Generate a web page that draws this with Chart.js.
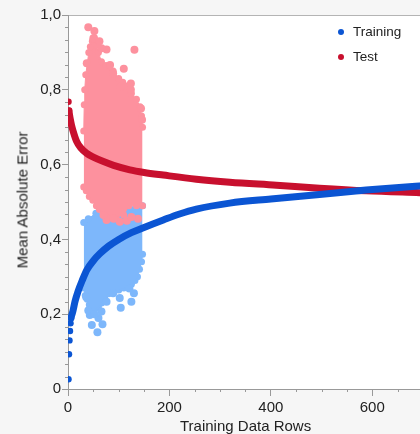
<!DOCTYPE html>
<html>
<head>
<meta charset="utf-8">
<script src="https://cdn.jsdelivr.net/npm/chart.js@4/dist/chart.umd.min.js"></script>
<style>
  html, body { margin: 0; padding: 0; width: 420px; height: 434px; overflow: hidden; background: #f6f6f6; }
  body { position: relative; font-family: "Liberation Sans", Arial, sans-serif; color: #222; }
  #wrap { position: absolute; left: 0; top: 0; width: 500px; height: 434px; }
  .ttl { position: absolute; font-size: 15px; white-space: nowrap; }
  #ytitle { left: 22px; top: 200px; transform: translate(-50%, -50%) rotate(-90deg); }
  #xtitle { left: 180px; top: 417px; }
  .leg { position: absolute; left: 338px; font-size: 13.5px; white-space: nowrap; }
  .leg i { display: inline-block; width: 6px; height: 6px; border-radius: 50%; margin-right: 9px; vertical-align: 1px; }
</style>
</head>
<body>
<div id="wrap"><canvas id="chart" width="500" height="434"></canvas></div>
<div class="ttl" id="ytitle">Mean Absolute Error</div>
<div class="ttl" id="xtitle">Training Data Rows</div>
<div class="leg" style="top:24px"><i style="background:#0b55d3"></i>Training</div>
<div class="leg" style="top:49px"><i style="background:#c8102e"></i>Test</div>
<script>
// curves
const trainX = [1, 2, 3, 4, 5, 6, 8, 10, 14, 20, 28, 37, 50, 63, 80, 100, 125, 150, 188, 220, 253, 319, 400, 496, 588, 693, 800];
const trainY = [0.026, 0.093, 0.13, 0.155, 0.176, 0.19, 0.2, 0.21, 0.235, 0.262, 0.29, 0.318, 0.343, 0.362, 0.382, 0.4, 0.418, 0.432, 0.452, 0.468, 0.481, 0.497, 0.508, 0.52, 0.532, 0.543, 0.553];
const testX = [1, 2, 3, 5, 7, 10, 17, 25, 37, 50, 70, 90, 122, 150, 188, 253, 319, 411, 496, 588, 693, 800];
const testY = [0.768, 0.744, 0.733, 0.718, 0.705, 0.69, 0.662, 0.645, 0.63, 0.62, 0.608, 0.598, 0.586, 0.579, 0.572, 0.561, 0.553, 0.545, 0.537, 0.53, 0.525, 0.52];

// test cloud (pink): dense band edges and loose dots
const testTopX = [31, 32, 33, 35, 38, 41, 44, 48, 52, 56, 60, 66, 75, 89, 100, 108, 116, 125, 135, 142, 145, 147];
const testTopY = [0.69, 0.76, 0.8, 0.84, 0.87, 0.9, 0.915, 0.93, 0.94, 0.92, 0.9, 0.875, 0.865, 0.85, 0.83, 0.82, 0.81, 0.79, 0.775, 0.755, 0.73, 0.7];
const testLowX = [31, 36, 42, 49, 56, 62, 70, 80, 95, 110, 120, 135, 147];
const testLowY = [0.54, 0.53, 0.515, 0.505, 0.49, 0.48, 0.47, 0.465, 0.46, 0.465, 0.49, 0.49, 0.49];
const testDotX = [40, 52, 50, 76, 131, 110, 104, 124, 124, 66, 62, 37, 89, 83, 76, 102, 116, 138, 90, 125, 70, 146, 144];
const testDotY = [0.967, 0.957, 0.938, 0.908, 0.907, 0.856, 0.808, 0.817, 0.8, 0.911, 0.93, 0.871, 0.844, 0.866, 0.452, 0.447, 0.45, 0.455, 0.455, 0.46, 0.465, 0.72, 0.75];

// training cloud (light blue)
const trainTopX = [31, 40, 55, 75, 100, 120, 135, 147];
const trainTopY = [0.445, 0.455, 0.47, 0.47, 0.475, 0.485, 0.49, 0.49];
const trainLowX = [31, 34, 38, 42, 46, 50, 55, 60, 66, 72, 80, 90, 100, 110, 118, 125, 132, 137, 141, 145, 147];
const trainLowY = [0.27, 0.25, 0.24, 0.225, 0.215, 0.21, 0.215, 0.22, 0.23, 0.245, 0.255, 0.265, 0.265, 0.27, 0.275, 0.28, 0.29, 0.3, 0.32, 0.34, 0.36];
const trainDotX = [47, 58, 68, 60, 43, 66, 76, 102, 104, 125, 130, 121, 89, 40, 52, 36];
const trainDotY = [0.171, 0.152, 0.173, 0.19, 0.198, 0.207, 0.233, 0.243, 0.217, 0.233, 0.256, 0.269, 0.256, 0.21, 0.2, 0.245];

const xTicks = [0, 200, 400, 600];
const yTicks = [0, 0.2, 0.4, 0.6, 0.8, 1.0];

const BLUE = "#0b55d3", RED = "#c8102e", PINK = "#fd919e", LBLUE = "#7db7fb";
const FONT = "'Liberation Sans', Arial, sans-serif";

const pts = (xs, ys) => xs.map((x, i) => ({ x: x, y: ys[i] }));

function band(xs, ys, color, fill, order) {
    return {
        data: pts(xs, ys), borderColor: color, backgroundColor: color,
        borderWidth: 1, pointRadius: 3.5, pointBorderWidth: 0,
        fill: fill, order: order
    };
}

function dots(xs, ys, color, order) {
    return {
        data: pts(xs, ys), showLine: false, backgroundColor: color, borderColor: color,
        pointRadius: 4, pointBorderWidth: 0, order: order
    };
}

// white plot area, frame and minor ticks
const frame = {
    id: "frame",
    beforeDraw(chart) {
        const { ctx, chartArea: a } = chart;
        ctx.save();
        ctx.fillStyle = "#fff";
        ctx.fillRect(a.left, a.top, a.right - a.left, a.bottom - a.top);
        ctx.strokeStyle = "#b4b4b4";
        ctx.lineWidth = 1;
        ctx.beginPath();
        ctx.moveTo(a.left, a.top + 0.5);
        ctx.lineTo(a.right, a.top + 0.5);
        ctx.stroke();
        ctx.restore();
    },
    afterDraw(chart) {
        const { ctx, chartArea: a, scales } = chart;
        ctx.save();
        ctx.strokeStyle = "#999";
        ctx.lineWidth = 1;
        ctx.beginPath();
        for (let k = 1; k < 30; k++) {
            if (k % 6 === 0) continue;
            const py = Math.round(scales.y.getPixelForValue(k / 30)) + 0.5;
            ctx.moveTo(a.left - 3, py);
            ctx.lineTo(a.left, py);
        }
        for (let v = 50; v < 844; v += 50) {
            if (v % 200 === 0) continue;
            const px = Math.round(scales.x.getPixelForValue(v)) + 0.5;
            ctx.moveTo(px, a.bottom);
            ctx.lineTo(px, a.bottom + 3);
        }
        ctx.stroke();
        ctx.restore();
    }
};

new Chart(document.getElementById("chart"), {
    type: "line",
    data: {
        datasets: [
            {
                label: "Training", data: pts(trainX, trainY), borderColor: BLUE, backgroundColor: BLUE,
                borderWidth: 7, cubicInterpolationMode: "monotone", borderCapStyle: "round",
                pointRadius: c => (c.dataIndex < 6 ? 3.2 : 0), pointBorderWidth: 0,
                segment: { borderColor: c => (c.p0DataIndex < 5 ? "transparent" : undefined) },
                order: 0
            },
            {
                label: "Test", data: pts(testX, testY), borderColor: RED, backgroundColor: RED,
                borderWidth: 7, cubicInterpolationMode: "monotone", borderCapStyle: "round",
                pointRadius: c => (c.dataIndex < 2 ? 3.2 : 0), pointBorderWidth: 0,
                segment: { borderColor: c => (c.p0DataIndex < 1 ? "transparent" : undefined) },
                order: 1
            },
            dots(testDotX, testDotY, PINK, 2),
            band(testTopX, testTopY, PINK, "+1", 3),
            band(testLowX, testLowY, PINK, false, 4),
            dots(trainDotX, trainDotY, LBLUE, 5),
            band(trainTopX, trainTopY, LBLUE, "+1", 6),
            band(trainLowX, trainLowY, LBLUE, false, 7)
        ]
    },
    options: {
        responsive: false,
        animation: false,
        layout: { padding: { top: 15, right: 0, bottom: 0, left: 0 } },
        plugins: { legend: { display: false }, tooltip: { enabled: false } },
        scales: {
            x: {
                type: "linear", min: 0, max: 844,
                afterFit: s => { s.height = 45; s.paddingRight = 0; },
                afterBuildTicks: s => { s.ticks = xTicks.map(v => ({ value: v })); },
                border: { color: "#999" },
                grid: { drawOnChartArea: false, tickLength: 7, color: "#999" },
                ticks: { padding: 3, maxRotation: 0, color: "#222", font: { family: FONT, size: 15 } }
            },
            y: {
                min: 0, max: 1,
                afterFit: s => { s.width = 68; },
                afterBuildTicks: s => { s.ticks = yTicks.map(v => ({ value: v })); },
                border: { color: "#999" },
                grid: { drawOnChartArea: false, tickLength: 6, color: "#999" },
                ticks: {
                    padding: 1, color: "#222", font: { family: FONT, size: 15 },
                    callback: v => (v === 0 ? "0" : v.toFixed(1).replace(".", ","))
                }
            }
        }
    },
    plugins: [frame]
});
</script>
</body>
</html>
